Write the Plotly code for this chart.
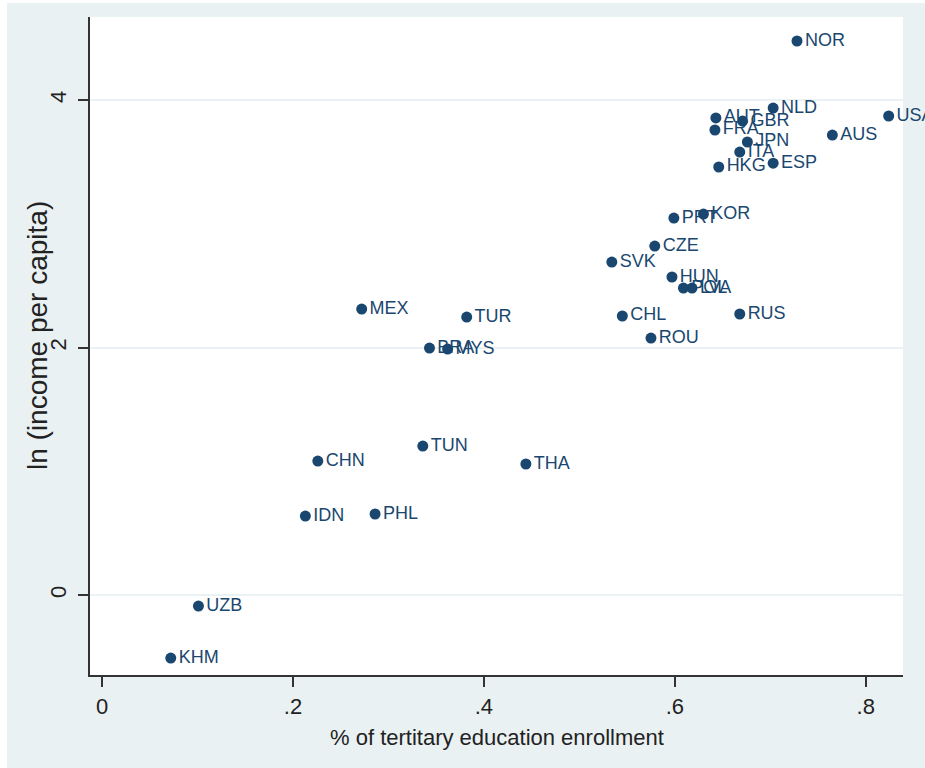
import plotly.graph_objects as go

# Country codes and their values
countries = ["NOR", "NLD", "AUT", "GBR", "FRA", "JPN", "ITA", "ESP", "HKG", "AUS", "USA",
             "KOR", "PRT", "CZE", "SVK", "HUN", "POL", "LVA", "RUS", "CHL", "ROU",
             "MEX", "TUR", "BRA", "MYS", "TUN", "CHN", "THA", "IDN", "PHL", "UZB", "KHM"]
tertiary_enrollment = [0.728, 0.703, 0.643, 0.671, 0.642, 0.676, 0.668, 0.703, 0.646, 0.765, 0.824,
                       0.630, 0.599, 0.579, 0.534, 0.597, 0.609, 0.618, 0.668, 0.545, 0.575,
                       0.272, 0.382, 0.343, 0.362, 0.336, 0.226, 0.444, 0.213, 0.286, 0.101, 0.072]
ln_income = [4.477, 3.935, 3.855, 3.830, 3.758, 3.661, 3.580, 3.490, 3.459, 3.717, 3.871,
             3.079, 3.046, 2.820, 2.691, 2.570, 2.481, 2.481, 2.271, 2.255, 2.077,
             2.311, 2.246, 1.996, 1.988, 1.204, 1.083, 1.059, 0.638, 0.655, -0.089, -0.509]

x_ticks = [0, 0.2, 0.4, 0.6, 0.8]
x_tick_labels = ["0", ".2", ".4", ".6", ".8"]
y_ticks = [0, 2, 4]
y_tick_labels = ["0", "2", "4"]

x_title = "% of tertitary education enrollment"
y_title = "ln (income per capita)"

NAVY = "#1A476F"
BG = "#EAF1F3"
FONT = "Liberation Sans, Arial, sans-serif"

fig = go.Figure(
    go.Scatter(
        x=tertiary_enrollment,
        y=ln_income,
        mode="markers+text",
        text=countries,
        textposition="middle right",
        textfont=dict(family=FONT, size=18, color=NAVY),
        marker=dict(symbol="circle", size=11, color=NAVY),
        cliponaxis=False,
        showlegend=False,
    )
)

W, H = 925, 768
ML, MR, MT, MB = 90, 22, 17, 93
pw = W - ML - MR
ph = H - MT - MB


def px_to_paper_x(px):
    return (px - ML) / pw


def px_to_paper_y(py):
    return 1 - (py - MT) / ph


axis_common = dict(
    ticks="outside",
    ticklen=10,
    tickwidth=1.5,
    tickcolor="#333333",
    showline=True,
    linecolor="#333333",
    linewidth=1.5,
    zeroline=False,
    tickfont=dict(size=22),
)

fig.update_layout(
    width=W,
    height=H,
    margin=dict(l=ML, r=MR, t=MT, b=MB, pad=0),
    paper_bgcolor=BG,
    plot_bgcolor="white",
    font=dict(family=FONT, color="#222222"),
    xaxis=dict(
        range=[-0.0126, 0.839],
        tickvals=x_ticks,
        ticktext=x_tick_labels,
        showgrid=False,
        ticklabelstandoff=1,
        **axis_common,
    ),
    yaxis=dict(
        range=[-0.646, 4.671],
        tickvals=y_ticks,
        ticktext=y_tick_labels,
        tickangle=-90,
        showgrid=True,
        gridcolor="#EAF2F3",
        gridwidth=1.5,
        ticklabelstandoff=3,
        **axis_common,
    ),
    annotations=[
        dict(text=x_title, xref="paper", yref="paper",
             x=px_to_paper_x(497), y=px_to_paper_y(737),
             xanchor="center", yanchor="middle", showarrow=False,
             font=dict(size=22, color="#222222")),
        dict(text=y_title, xref="paper", yref="paper", textangle=-90,
             x=px_to_paper_x(37), y=px_to_paper_y(336),
             xanchor="center", yanchor="middle", showarrow=False,
             font=dict(size=28, color="#222222")),
    ],
    shapes=[
        # thin white border along the left and top edges of the page
        dict(type="rect", xref="paper", yref="paper", layer="below",
             x0=-ML / pw, x1=(7 - ML) / pw, y0=-MB / ph, y1=1 + MT / ph,
             fillcolor="white", line=dict(width=0)),
        dict(type="rect", xref="paper", yref="paper", layer="below",
             x0=-ML / pw, x1=1 + MR / pw, y0=1 + (MT - 3) / ph, y1=1 + MT / ph,
             fillcolor="white", line=dict(width=0)),
    ],
)

fig.write_html("out.html")
